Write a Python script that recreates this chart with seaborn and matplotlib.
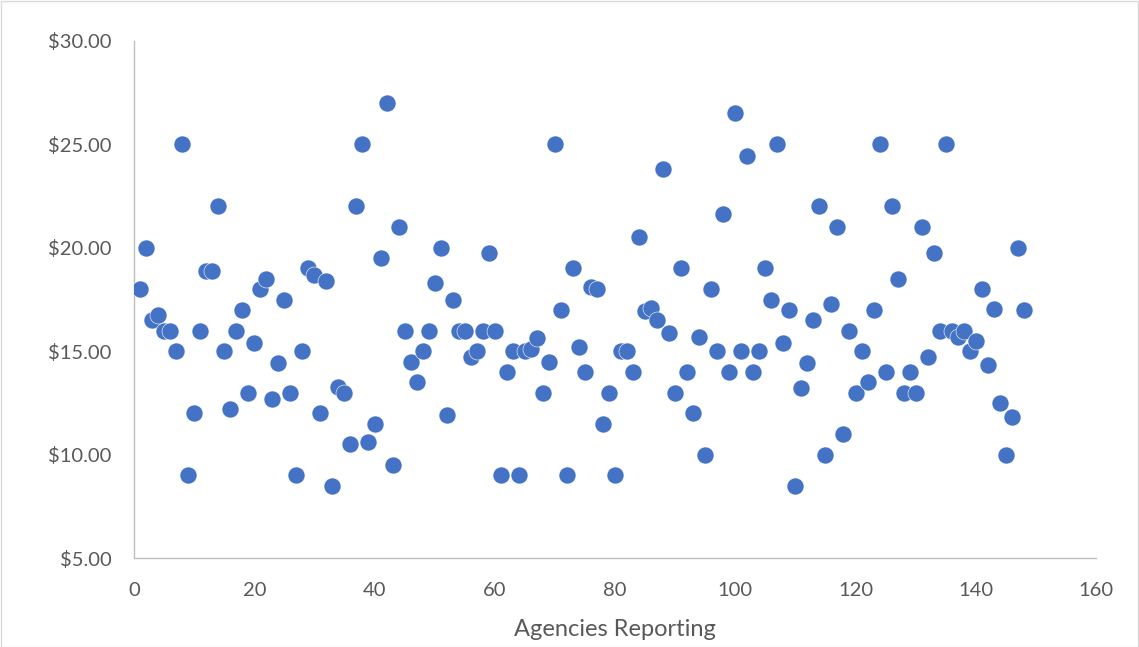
import matplotlib
matplotlib.use("Agg")
import matplotlib.pyplot as plt
from matplotlib.patches import Rectangle
from matplotlib.ticker import FuncFormatter, MultipleLocator
import seaborn as sns
import pandas as pd

# Hourly rate reported by each agency, in report order (agency 1..148)
agency_ids = list(range(1, 149))
hourly_rates = [
    18.00, 20.00, 16.50, 16.75, 16.00, 16.00, 15.00, 25.00, 9.00, 12.00,
    16.00, 18.90, 18.90, 22.00, 15.00, 12.20, 16.00, 17.00, 13.00, 15.40,
    18.00, 18.50, 12.70, 14.45, 17.50, 13.00, 9.00, 15.00, 19.00, 18.70,
    12.00, 18.40, 8.50, 13.25, 13.00, 10.50, 22.00, 25.00, 10.60, 11.50,
    19.50, 27.00, 9.50, 21.00, 16.00, 14.50, 13.50, 15.00, 16.00, 18.30,
    20.00, 11.90, 17.50, 16.00, 16.00, 14.70, 15.00, 16.00, 19.75, 16.00,
    9.00, 14.00, 15.00, 9.00, 15.00, 15.10, 15.65, 13.00, 14.50, 25.00,
    17.00, 9.00, 19.00, 15.20, 14.00, 18.10, 18.00, 11.50, 13.00, 9.00,
    15.00, 15.00, 14.00, 20.50, 16.95, 17.10, 16.50, 23.80, 15.90, 13.00,
    19.00, 14.00, 12.00, 15.70, 10.00, 18.00, 15.00, 21.65, 14.00, 26.50,
    15.00, 24.45, 14.00, 15.00, 19.00, 17.50, 25.00, 15.40, 17.00, 8.50,
    13.20, 14.45, 16.50, 22.00, 10.00, 17.30, 21.00, 11.00, 16.00, 13.00,
    15.00, 13.50, 17.00, 25.00, 14.00, 22.00, 18.50, 13.00, 14.00, 13.00,
    21.00, 14.70, 19.75, 16.00, 25.00, 16.00, 15.70, 16.00, 15.00, 15.50,
    18.00, 14.35, 17.05, 12.50, 10.00, 11.80, 20.00, 17.00,
]

df = pd.DataFrame({"Agencies Reporting": agency_ids, "Rate": hourly_rates})

sns.set_theme(style="white")
plt.rcParams["font.family"] = ["Lato", "DejaVu Sans"]

fig = plt.figure(figsize=(11.39, 6.47), dpi=100)
ax = fig.add_axes([134 / 1139, 1 - 558 / 647, (1096 - 134) / 1139, (558 - 41) / 647])

sns.scatterplot(
    data=df, x="Agencies Reporting", y="Rate", ax=ax,
    color="#4472C4", s=150, edgecolor="white", linewidth=0.4, zorder=3,
)

ax.set_xlim(0, 160)
ax.set_ylim(5, 30)
ax.xaxis.set_major_locator(MultipleLocator(20))
ax.yaxis.set_major_locator(MultipleLocator(5))
ax.yaxis.set_major_formatter(FuncFormatter(lambda v, _: f"${v:.2f}"))

for side in ("top", "right"):
    ax.spines[side].set_visible(False)
for side in ("left", "bottom"):
    ax.spines[side].set_color("#BFBFBF")
    ax.spines[side].set_linewidth(1.0)
ax.grid(False)

ax.tick_params(axis="both", length=0, labelsize=14.5, labelcolor="#595959")
ax.tick_params(axis="x", pad=17)
ax.tick_params(axis="y", pad=16)
ax.set_ylabel("")
ax.set_xlabel("Agencies Reporting", fontsize=17, color="#595959", labelpad=15)

# Light chart border
fig.patches.append(Rectangle((0.5 / 1139, 0.5 / 647), 1 - 1.5 / 1139, 1 - 1.5 / 647,
                             transform=fig.transFigure, fill=False,
                             edgecolor="#D9D9D9", linewidth=1.0))

fig.savefig("out.png", dpi=100, facecolor="white")
